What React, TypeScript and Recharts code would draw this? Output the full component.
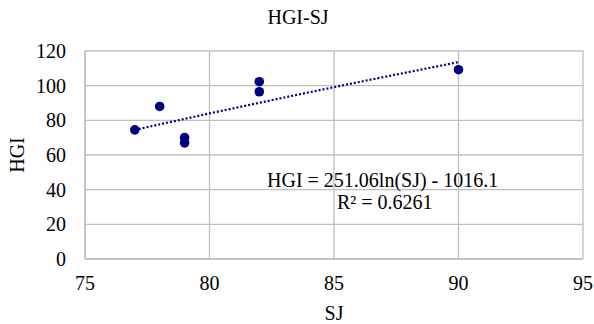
import React from 'react';
import { ScatterChart, Scatter, XAxis, YAxis, CartesianGrid, Label } from 'recharts';

const sjValues = [77, 78, 79, 79, 82, 82, 90];
const hgiValues = [74.5, 88, 70, 67, 102.3, 96.5, 109.2];

// trendline as it appears in the picture (log fit)
const trendSj = [77, 80, 83, 86, 90];
const trendHgi = [74.5, 84, 93.2, 102.1, 113.6];

const xTicks = [75, 80, 85, 90, 95];
const yTicks = [0, 20, 40, 60, 80, 100, 120];

const points = sjValues.map((x, i) => ({ x, y: hgiValues[i] }));
const trend = trendSj.map((x, i) => ({ x, y: trendHgi[i] }));

const font = '"Liberation Serif", "Times New Roman", serif';
const navy = '#000080';
const gridColor = '#bfbfbf';

export default function App() {
  return (
    <div style={{ position: 'absolute', left: 0, top: 0, width: 594, height: 324, background: '#fff', fontFamily: font, color: '#000' }}>
      <ScatterChart width={594} height={324} margin={{ top: 51, right: 11, bottom: 0, left: 0 }}>
        <CartesianGrid stroke={gridColor} strokeWidth={1.3} />
        <XAxis
          type="number"
          dataKey="x"
          domain={[75, 95]}
          ticks={xTicks}
          height={65}
          tickSize={0}
          tickMargin={17}
          axisLine={{ stroke: gridColor, strokeWidth: 1.3 }}
          tick={{ fill: '#000', fontSize: 20, fontFamily: font }}
        >
          <Label value="SJ" position="insideBottom" offset={4} style={{ fill: '#000', fontSize: 20, fontFamily: font }} />
        </XAxis>
        <YAxis
          type="number"
          dataKey="y"
          domain={[0, 120]}
          ticks={yTicks}
          width={85}
          tickSize={0}
          tickMargin={19}
          axisLine={{ stroke: gridColor, strokeWidth: 1.3 }}
          tick={{ fill: '#000', fontSize: 20, fontFamily: font }}
        >
          <Label value="HGI" angle={-90} position="insideLeft" offset={17} style={{ fill: '#000', fontSize: 20, fontFamily: font, textAnchor: 'middle' }} />
        </YAxis>
        <Scatter
          data={trend}
          isAnimationActive={false}
          line={{ stroke: navy, strokeWidth: 2.2, strokeDasharray: '2 2' }}
          shape={() => <g />}
        />
        <Scatter data={points} fill={navy} isAnimationActive={false} shape={(p: any) => <circle cx={p.cx} cy={p.cy} r={4.8} fill={navy} />} />
      </ScatterChart>
      <div style={{ position: 'absolute', left: 0, width: 596, top: 7, textAlign: 'center', fontSize: 20, lineHeight: '20px' }}>HGI-SJ</div>
      <div style={{ position: 'absolute', left: 267, top: 170, fontSize: 20, lineHeight: '20px', whiteSpace: 'nowrap' }}>HGI = 251.06ln(SJ) - 1016.1</div>
      <div style={{ position: 'absolute', left: 337, top: 192, fontSize: 20, lineHeight: '20px', whiteSpace: 'nowrap' }}>R² = 0.6261</div>
    </div>
  );
}
